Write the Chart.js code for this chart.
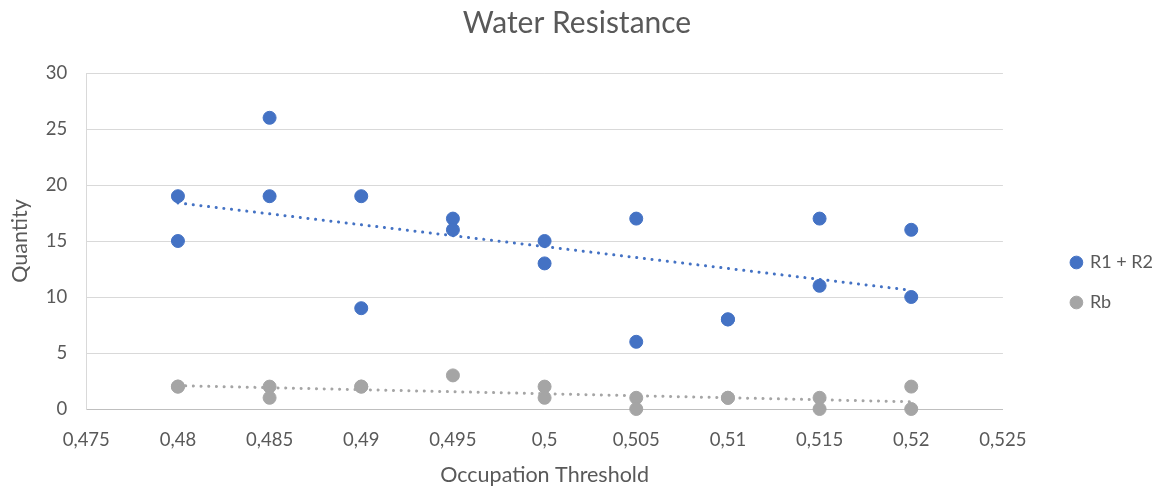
<!DOCTYPE html>
<html>
<head>
<meta charset="utf-8">
<script src="https://cdn.jsdelivr.net/npm/chart.js@4/dist/chart.umd.min.js"></script>
<style>
  html, body { margin: 0; padding: 0; background: #fff; }
  #wrap { width: 1162px; height: 486px; }
</style>
</head>
<body>
<div id="wrap"><canvas id="chart"></canvas></div>
<script>
// valores
const r12X = [0.48, 0.48, 0.485, 0.485, 0.49, 0.49, 0.495, 0.495, 0.5, 0.5, 0.505, 0.505, 0.51, 0.51, 0.515, 0.515, 0.52, 0.52];
const r12Y = [19, 15, 26, 19, 19, 9, 17, 16, 15, 13, 17, 6, 8, 8, 17, 11, 16, 10];
const rbX = [0.48, 0.48, 0.485, 0.485, 0.49, 0.49, 0.495, 0.5, 0.5, 0.505, 0.505, 0.51, 0.51, 0.515, 0.515, 0.52, 0.52];
const rbY = [2, 2, 2, 1, 2, 2, 3, 2, 1, 1, 0, 1, 1, 1, 0, 2, 0];
const xTicks = [0.475, 0.48, 0.485, 0.49, 0.495, 0.5, 0.505, 0.51, 0.515, 0.52, 0.525];
const yTicks = [0, 5, 10, 15, 20, 25, 30];

const BLUE = '#4472C4';
const GRAY = '#A5A5A5';
const TEXT = '#595959';
const FONT = 'Lato, "Open Sans", sans-serif';

// espaço extra reservado para a legenda e deslocamento dela
const LEGEND_EXTRA_W = 31;
const LEGEND_SHIFT_X = 47;
const LEGEND_SHIFT_Y = 37;

const toPoints = (xs, ys) => xs.map((x, i) => ({ x: x, y: ys[i] }));

// linha de tendência linear (mínimos quadrados), como no Excel
function trend(xs, ys) {
    const n = xs.length;
    const mx = xs.reduce((a, b) => a + b, 0) / n;
    const my = ys.reduce((a, b) => a + b, 0) / n;
    let sxy = 0, sxx = 0;
    xs.forEach((x, i) => { sxy += (x - mx) * (ys[i] - my); sxx += (x - mx) * (x - mx); });
    const b = sxy / sxx;
    const x0 = Math.min(...xs), x1 = Math.max(...xs);
    return [{ x: x0, y: my + b * (x0 - mx) }, { x: x1, y: my + b * (x1 - mx) }];
}

const trendStyle = (color) => ({
    type: 'line',
    showLine: true,
    borderColor: color,
    borderWidth: 3,
    borderDash: [0.1, 7.6],
    borderCapStyle: 'round',
    pointRadius: 0,
    fill: false,
    clip: false,
    order: 0,
    isTrend: true
});

const legendOffset = {
    id: 'legendOffset',
    beforeLayout(chart) {
        const lg = chart.legend;
        if (lg && !lg._widened) {
            const fit = lg.fit;
            lg.fit = function () { fit.call(this); this.width += LEGEND_EXTRA_W; };
            lg._widened = true;
        }
    },
    afterLayout(chart) {
        const lg = chart.legend;
        lg.left += LEGEND_SHIFT_X;
        lg.right += LEGEND_SHIFT_X;
        lg.top += LEGEND_SHIFT_Y;
        lg.bottom += LEGEND_SHIFT_Y;
    }
};

new Chart(document.getElementById('chart'), {
    type: 'scatter',
    data: {
        datasets: [
            { label: 'R1 + R2', data: toPoints(r12X, r12Y), backgroundColor: BLUE, borderColor: BLUE, pointRadius: 6.5, pointHoverRadius: 6.5, clip: false, order: 1 },
            { label: 'Rb', data: toPoints(rbX, rbY), backgroundColor: GRAY, borderColor: GRAY, pointRadius: 6.5, pointHoverRadius: 6.5, clip: false, order: 1 },
            Object.assign({ label: 'trend1', data: trend(r12X, r12Y) }, trendStyle(BLUE)),
            Object.assign({ label: 'trend2', data: trend(rbX, rbY) }, trendStyle(GRAY))
        ]
    },
    plugins: [legendOffset],
    options: {
        responsive: true,
        maintainAspectRatio: false,
        animation: false,
        layout: { padding: { left: 7, right: 15, top: 3, bottom: -2 } },
        plugins: {
            title: {
                display: true,
                text: 'Water Resistance',
                color: TEXT,
                font: { family: FONT, size: 30, weight: 'normal' },
                padding: { top: 2, bottom: 32 }
            },
            legend: {
                position: 'right',
                labels: {
                    usePointStyle: true,
                    pointStyle: 'circle',
                    boxWidth: 9,
                    boxHeight: 9,
                    padding: 22,
                    color: TEXT,
                    font: { family: FONT, size: 18 },
                    filter: (item, data) => !data.datasets[item.datasetIndex].isTrend
                }
            },
            tooltip: { enabled: false }
        },
        scales: {
            x: {
                type: 'linear',
                min: 0.475,
                max: 0.525,
                afterBuildTicks: (axis) => { axis.ticks = xTicks.map(v => ({ value: v })); },
                ticks: {
                    color: TEXT,
                    font: { family: FONT, size: 18.5 },
                    padding: 20,
                    maxRotation: 0,
                    callback: (v) => String(Math.round(v * 1000) / 1000).replace('.', ',')
                },
                grid: { display: false, drawTicks: false },
                border: { display: true, color: '#BFBFBF', width: 1 },
                title: { display: true, text: 'Occupation Threshold', color: TEXT, font: { family: FONT, size: 21.5 }, padding: { top: -9, bottom: 0 } }
            },
            y: {
                min: 0,
                max: 30,
                afterBuildTicks: (axis) => { axis.ticks = yTicks.map(v => ({ value: v })); },
                ticks: { color: TEXT, font: { family: FONT, size: 18.5 }, padding: 19 },
                grid: { color: '#D9D9D9', lineWidth: 1, drawTicks: false },
                border: { display: true, color: '#D9D9D9', width: 1 },
                title: { display: true, text: 'Quantity', color: TEXT, font: { family: FONT, size: 21.5 }, padding: { top: 0, bottom: -6 } }
            }
        }
    }
});
</script>
</body>
</html>
